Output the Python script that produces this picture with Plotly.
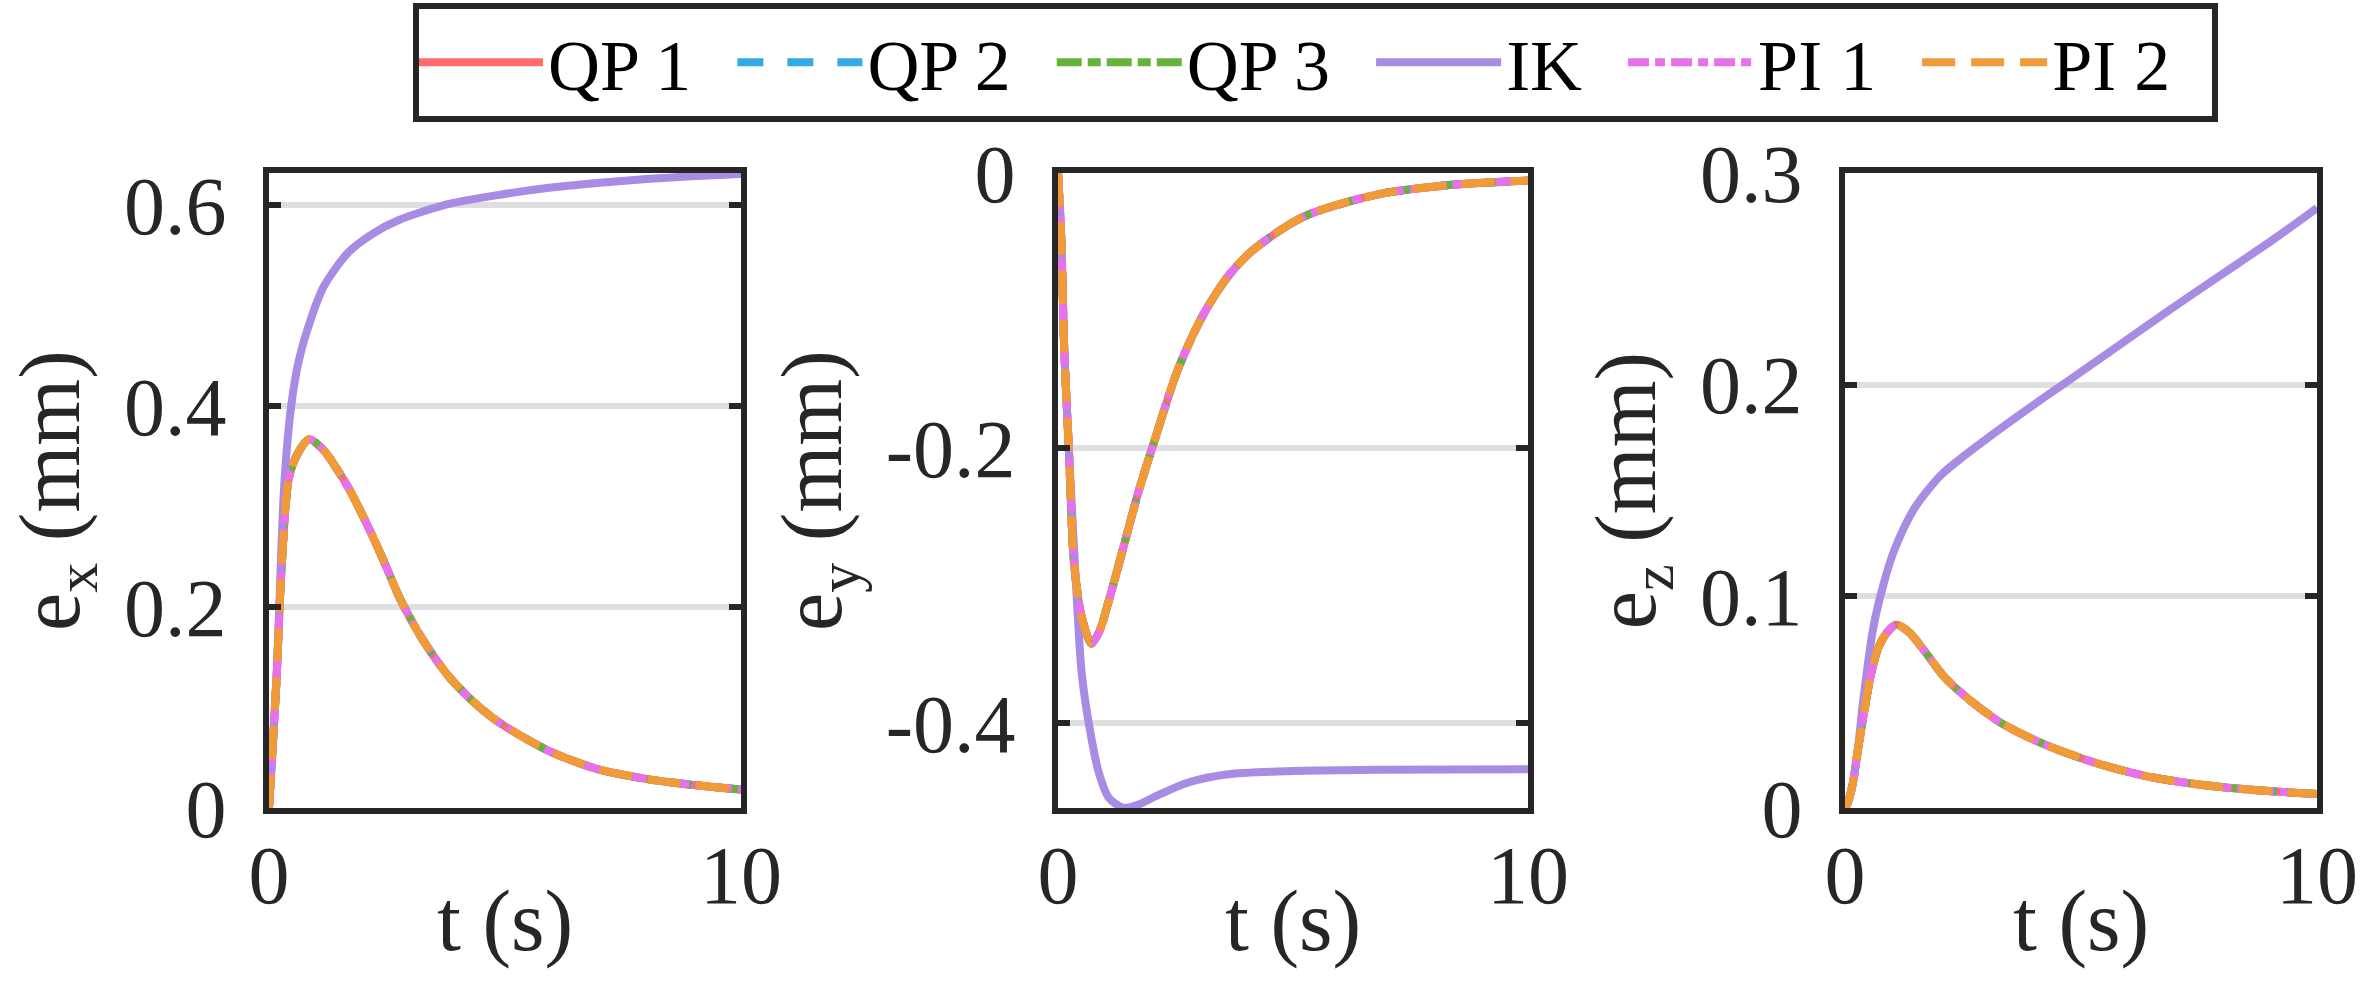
import plotly.graph_objects as go

# ---------------- data ----------------
series_names = ["QP 1", "QP 2", "QP 3", "IK", "PI 1", "PI 2"]
series_colors = ["#FF6B6B", "#30A9E5", "#65B33A", "#A88BE3", "#E870EA", "#F19A38"]

# panel 1: e_x (mm) vs t (s); the five controllers overlap, IK separate
t_ctrl_x = [0, 0.16, 0.26, 0.42, 0.6, 0.85, 1.16, 1.47, 1.68, 2.1, 2.42, 2.79, 3.25, 3.79, 4.3, 4.83, 5.89, 6.94, 7.99, 9.04, 10]
ex_ctrl = [0, 0.129, 0.234, 0.328, 0.352, 0.367, 0.356, 0.335, 0.319, 0.28, 0.247, 0.207, 0.168, 0.132, 0.107, 0.0866, 0.0577, 0.039, 0.029, 0.0226, 0.0184]
t_ik_x = [0, 0.16, 0.32, 0.47, 0.63, 0.89, 1.16, 1.68, 2.21, 2.74, 3.79, 4.84, 5.89, 6.95, 8.0, 9.05, 10]
ex_ik = [0, 0.129, 0.319, 0.4, 0.445, 0.487, 0.519, 0.553, 0.572, 0.585, 0.601, 0.61, 0.617, 0.622, 0.626, 0.629, 0.631]

# panel 2: e_y
t_ctrl_y = [0, 0.07, 0.13, 0.23, 0.34, 0.5, 0.71, 0.87, 1.08, 1.4, 1.71, 2.03, 2.56, 3.09, 3.62, 4.15, 5.21, 6.79, 8.38, 10]
ey_ctrl = [0, -0.048, -0.126, -0.2, -0.283, -0.322, -0.342, -0.334, -0.311, -0.271, -0.232, -0.197, -0.142, -0.103, -0.075, -0.056, -0.032, -0.0157, -0.0086, -0.0055]
t_ik_y = [0, 0.07, 0.13, 0.23, 0.39, 0.5, 0.66, 0.87, 1.08, 1.4, 1.71, 2.14, 2.77, 3.62, 4.68, 6.79, 10]
ey_ik = [0, -0.048, -0.126, -0.2, -0.303, -0.362, -0.401, -0.436, -0.454, -0.4615, -0.459, -0.452, -0.443, -0.437, -0.435, -0.4337, -0.4333]

# panel 3: e_z
t_ctrl_z = [0, 0.05, 0.16, 0.27, 0.38, 0.54, 0.71, 0.93, 1.09, 1.36, 1.69, 2.12, 2.67, 3.32, 4.19, 5.28, 6.37, 7.46, 8.55, 10]
ez_ctrl = [0, 0.002, 0.011, 0.027, 0.042, 0.062, 0.076, 0.084, 0.0866, 0.083, 0.074, 0.0615, 0.0505, 0.04, 0.0304, 0.0215, 0.0151, 0.0112, 0.0087, 0.0066]
t_ik_z = [0, 0.05, 0.16, 0.27, 0.38, 0.6, 0.82, 1.03, 1.47, 2.02, 2.56, 3.65, 4.74, 5.83, 6.92, 8.01, 9.1, 10]
ez_ik = [0, 0.002, 0.011, 0.027, 0.0496, 0.0853, 0.106, 0.121, 0.1415, 0.157, 0.167, 0.185, 0.202, 0.219, 0.236, 0.2525, 0.269, 0.2835]

x_tickvals = [0, 10]
x_ticktext = ["0", "10"]
y1_tickvals = [0, 0.2, 0.4, 0.6]
y1_ticktext = ["0", "0.2", "0.4", "0.6"]
y2_tickvals = [-0.4, -0.2, 0]
y2_ticktext = ["-0.4", "-0.2", "0"]
y3_tickvals = [0, 0.1, 0.2, 0.3]
y3_ticktext = ["0", "0.1", "0.2", "0.3"]
x_title = "t (s)"
y_titles = ["e<sub>x</sub> (mm)", "e<sub>y</sub> (mm)", "e<sub>z</sub> (mm)"]

# ---------------- styling ----------------
dashes = ["solid", "26px,24px", "25px,6px,13px,6px", "solid", "21px,6px,10px,6px", "33px,16px"]
LW = 8
FRAME = "#262626"
FONT = "Liberation Serif, Times New Roman, serif"
NB = "\u00a0\u00a0"  # trailing spacing between legend entries

panels = [
    (t_ctrl_x, ex_ctrl, t_ik_x, ex_ik),
    (t_ctrl_y, ey_ctrl, t_ik_y, ey_ik),
    (t_ctrl_z, ez_ctrl, t_ik_z, ez_ik),
]

fig = go.Figure()
for p, (tc, vc, ti, vi) in enumerate(panels):
    xa = "x" if p == 0 else f"x{p+1}"
    ya = "y" if p == 0 else f"y{p+1}"
    for k, name in enumerate(series_names):
        if name == "IK":
            xs, ys = ti, vi
        else:
            xs, ys = tc, vc
        fig.add_trace(go.Scatter(
            x=xs, y=ys, mode="lines", name=name + NB,
            line=dict(color=series_colors[k], width=LW, dash=dashes[k], shape="spline", smoothing=0.8),
            xaxis=xa, yaxis=ya, showlegend=(p == 0), legendgroup=name,
        ))

W, H = 2360, 982
x_domains = [(269 / W, 741 / W), (1058 / W, 1528 / W), (1845 / W, 2317 / W)]
y_domain = (1 - 808 / H, 1 - 173 / H)
y_ranges = [[0, 0.632], [-0.4615, 0], [0, 0.3]]
y_ticks = [(y1_tickvals, y1_ticktext), (y2_tickvals, y2_ticktext), (y3_tickvals, y3_ticktext)]

annotations = []
layout = dict(
    width=W, height=H,
    margin=dict(l=0, r=0, t=0, b=0, autoexpand=False),
    paper_bgcolor="white", plot_bgcolor="white",
    font=dict(family=FONT, color=FRAME),
    showlegend=True,
    legend=dict(
        orientation="h", x=413 / W, xanchor="left", y=1 - 3 / H, yanchor="top",
        bordercolor=FRAME, borderwidth=6, bgcolor="white",
        font=dict(family=FONT, size=72, color="black"),
        itemwidth=125, tracegroupgap=0,
    ),
)
for p in range(3):
    xk = "xaxis" if p == 0 else f"xaxis{p+1}"
    yk = "yaxis" if p == 0 else f"yaxis{p+1}"
    ya_ref = "y" if p == 0 else f"y{p+1}"
    xa_ref = "x" if p == 0 else f"x{p+1}"
    layout[xk] = dict(
        domain=list(x_domains[p]), anchor=ya_ref, range=[0, 10], automargin=False,
        tickvals=x_tickvals, ticktext=x_ticktext,
        showline=True, linecolor=FRAME, linewidth=6, mirror="ticks",
        ticks="inside", ticklen=12, tickwidth=6, tickcolor=FRAME,
        showgrid=False, zeroline=False,
        tickfont=dict(family=FONT, size=82, color=FRAME), ticklabelstandoff=-9,
    )
    layout[yk] = dict(
        domain=list(y_domain), anchor=xa_ref, range=y_ranges[p], automargin=False,
        tickvals=y_ticks[p][0], ticktext=y_ticks[p][1],
        showline=True, linecolor=FRAME, linewidth=6, mirror="ticks",
        ticks="inside", ticklen=12, tickwidth=6, tickcolor=FRAME,
        showgrid=True, gridcolor="#DFDFDF", gridwidth=6, zeroline=False,
        tickfont=dict(family=FONT, size=82, color=FRAME), ticklabelstandoff=20,
        title=dict(text=y_titles[p], font=dict(family=FONT, size=86, color=FRAME), standoff=18),
    )
    annotations.append(dict(
        text=x_title, xref=f"{xa_ref} domain", yref=f"{ya_ref} domain",
        x=0.5, y=-0.178, xanchor="center", yanchor="middle", showarrow=False,
        font=dict(family=FONT, size=86, color=FRAME),
    ))
layout["annotations"] = annotations
fig.update_layout(**layout)
fig.write_html("out.html")
